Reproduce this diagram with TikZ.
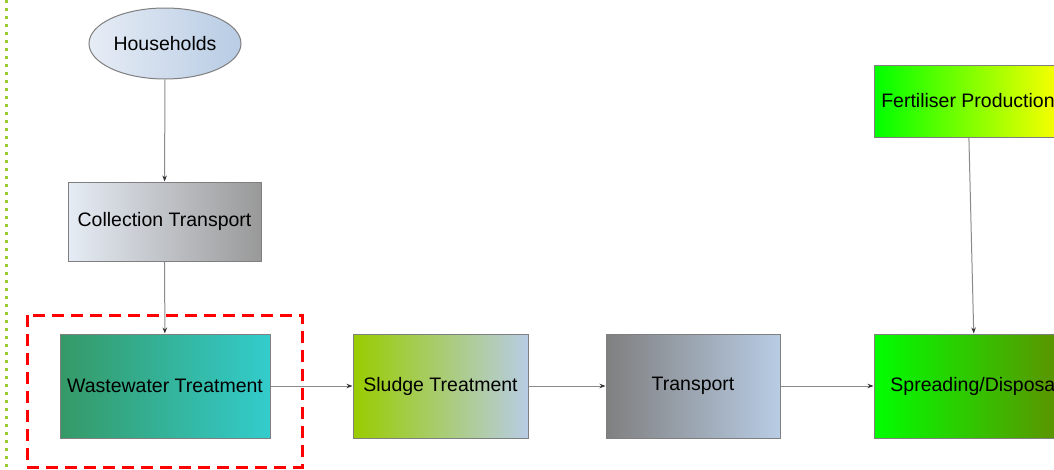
\documentclass[tikz,border=0pt]{standalone}
\usepackage{fontspec}
\setmainfont{Liberation Sans}
\usepackage{xcolor}
\usetikzlibrary{arrows.meta,positioning,calc,shapes.geometric}
\definecolor{edge}{HTML}{7F7F7F}
\definecolor{wire}{HTML}{8A8A8A}
\definecolor{paleblue}{HTML}{B8CCE4}
\definecolor{mist}{HTML}{E6ECF5}
\definecolor{seagreen}{HTML}{359966}
\definecolor{teal}{HTML}{33CCCC}
\definecolor{lime}{HTML}{99CC00}
\definecolor{olive}{HTML}{668800}
\definecolor{dotgreen}{HTML}{99CC33}
\tikzset{
  stage/.style={draw=edge,line width=1pt,inner sep=0pt,align=center,
    font=\fontsize{19.5}{23}\selectfont},
  source/.style={stage,ellipse},
  arr/.style={-{Stealth[length=6pt,width=4.5pt,color=black!80]},line width=1pt,draw=wire},
  frame/.style={draw=red,line width=3pt,dash pattern=on 12pt off 7pt},
  border/.style={draw=dotgreen,line width=3pt,dash pattern=on 3pt off 5pt}
}

\begin{document}
\begin{tikzpicture}[x=1pt,y=-1pt]
  \useasboundingbox (0,0) rectangle (1054,469);
  \clip (0,0) rectangle (1054,469);
  % left border and highlighted unit
  \draw[border] (6,0) -- (6,469);
  \draw[frame] (27,315) rectangle (302,467);
  % process chain
  \node[source,minimum width=152pt,minimum height=71pt,left color=mist,right color=paleblue] (house) at (165,43.5) {Households};
  \node[stage,minimum width=193pt,minimum height=79pt,left color=mist,right color=gray!80] (coll) at (164.5,221.5) {Collection Transport};
  \node[stage,minimum width=210pt,minimum height=104pt,left color=seagreen,right color=teal] (wwt) at (165,386) {Wastewater Treatment};
  \node[stage,minimum width=175pt,minimum height=104pt,left color=lime,right color=paleblue] (sludge) at (440.5,386) {Sludge Treatment};
  \node[stage,minimum width=174pt,minimum height=104pt,left color=gray,right color=paleblue] (transp) at (693,386) {Transport};
  \node[stage,minimum width=202pt,minimum height=104pt,left color=green,right color=olive] (spread) at (975,386) {Spreading/Disposal};
  \node[stage,minimum width=188pt,minimum height=72pt,left color=green,right color=yellow] (fert) at (968,101) {Fertiliser Production};
  % flows
  \draw[arr] (house) -- (coll);
  \draw[arr] (coll) -- (wwt);
  \draw[arr] (wwt) -- (sludge);
  \draw[arr] (sludge) -- (transp);
  \draw[arr] (transp) -- (spread);
  \draw[arr] (fert) -- (spread);
\end{tikzpicture}
\end{document}
